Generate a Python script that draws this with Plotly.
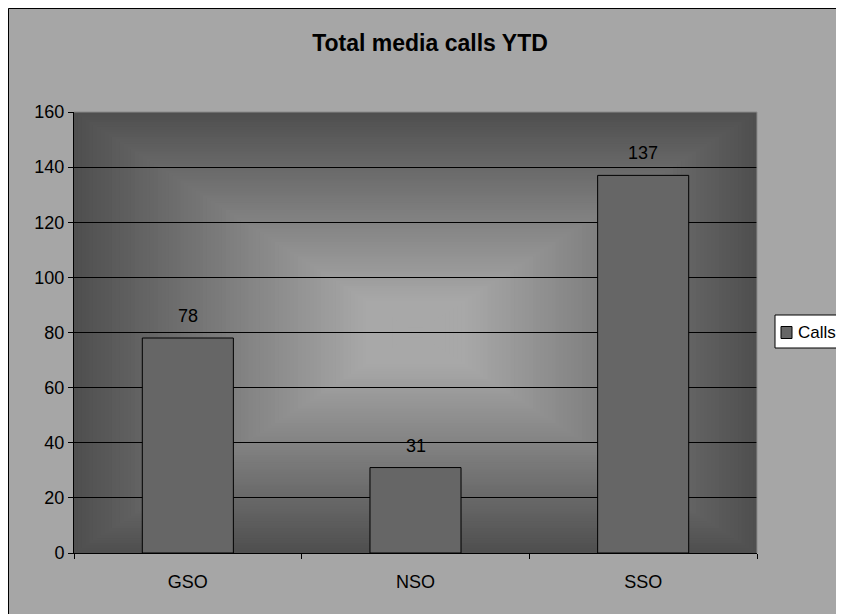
import plotly.graph_objects as go

categories = ["GSO", "NSO", "SSO"]
calls = [78, 31, 137]
series_name = "Calls"
title_text = "Total media calls YTD"
y_ticks = [0, 20, 40, 60, 80, 100, 120, 140, 160]

FONT = "Liberation Sans, Arial, sans-serif"

# figure sits at an 8px page offset (body margin)
W, H = 836, 606
L, R, T, B = 66, 836 - 749, 104, 606 - 545
pw, ph = W - L - R, H - T - B

def px_x(p):
    return (p - L) / pw

def px_y(p):
    return (H - B - p) / ph

shapes = []
# chart-area border (left and top visible)
shapes.append(dict(type="line", xref="paper", yref="paper",
                   x0=px_x(0.5), x1=px_x(0.5), y0=px_y(H), y1=px_y(0.5),
                   line=dict(color="black", width=1), layer="above"))
shapes.append(dict(type="line", xref="paper", yref="paper",
                   x0=px_x(0.5), x1=px_x(W), y0=px_y(0.5), y1=px_y(0.5),
                   line=dict(color="black", width=1), layer="above"))

# rectangular "from centre" gradient of plot area
N = 90
c_out, c_in = 0x4f, 0xa8
for i in range(N):
    t = 1 - i / N
    if t <= 0.15:
        v = c_in
    else:
        v = c_in + (c_out - c_in) * (t - 0.15) / 0.85
    v = int(round(v))
    col = f"rgb({v},{v},{v})"
    shapes.append(dict(type="rect", xref="x domain", yref="y domain",
                       x0=0.5 - t / 2, x1=0.5 + t / 2, y0=0.5 - t / 2, y1=0.5 + t / 2,
                       fillcolor=col, line=dict(width=0), layer="below"))

# light plot-area frame top/right
shapes.append(dict(type="line", xref="x domain", yref="y domain", x0=0, x1=1, y0=1, y1=1,
                   line=dict(color="#8a8a8a", width=1)))
shapes.append(dict(type="line", xref="x domain", yref="y domain", x0=1, x1=1, y0=0, y1=1,
                   line=dict(color="#8a8a8a", width=1)))

BAR_COLOR = "#666666"

# legend box (runs past the right edge, as in the reference) and swatch
shapes.append(dict(type="rect", xref="paper", yref="paper",
                   x0=px_x(767), x1=px_x(W + 20), y0=px_y(340), y1=px_y(307),
                   fillcolor="white", line=dict(color="black", width=1), layer="above"))
shapes.append(dict(type="rect", xref="paper", yref="paper",
                   x0=px_x(773), x1=px_x(784), y0=px_y(330.5), y1=px_y(318.5),
                   fillcolor=BAR_COLOR, line=dict(color="black", width=1), layer="above"))

fig = go.Figure()
fig.add_trace(go.Bar(
    x=categories, y=calls, name=series_name,
    marker=dict(color=BAR_COLOR, line=dict(color="black", width=1)),
    showlegend=False,
))

annotations = [dict(x=c, y=v, text=str(v), xref="x", yref="y", showarrow=False,
                    yanchor="bottom", yshift=10,
                    font=dict(family=FONT, size=18, color="black"))
               for c, v in zip(categories, calls)]
annotations.append(dict(x=px_x(788), y=px_y(324), xref="paper", yref="paper",
                        text=series_name, showarrow=False, xanchor="left", yanchor="middle",
                        font=dict(family=FONT, size=17, color="black")))

fig.update_layout(
    width=W, height=H, autosize=False,
    margin=dict(l=L, r=R, t=T, b=B, pad=0, autoexpand=False),
    paper_bgcolor="#a6a6a6",
    plot_bgcolor="#4f4f4f",
    font=dict(family=FONT, size=18, color="black"),
    title=dict(text=f"<b>{title_text}</b>", x=422 / W, xref="container", xanchor="center",
               y=1 - 35 / H, yref="container", yanchor="middle",
               font=dict(family=FONT, size=23, color="black")),
    bargap=0.6,
    showlegend=False,
    shapes=shapes,
    annotations=annotations,
    xaxis=dict(type="category", showline=True, linecolor="black", linewidth=1,
               ticks="outside", tickson="boundaries", ticklen=5, tickcolor="black",
               showgrid=False, zeroline=False, ticklabelstandoff=12,
               tickfont=dict(family=FONT, size=18, color="black")),
    yaxis=dict(range=[0, 160], tickvals=y_ticks, showline=True, linecolor="black", linewidth=1,
               ticks="outside", ticklen=5, tickcolor="black",
               showgrid=True, gridcolor="black", gridwidth=1, zeroline=False,
               tickfont=dict(family=FONT, size=18, color="black")),
)

fig.write_html("out.html",
               post_script="document.documentElement.style.overflow='hidden';"
                           "document.body.style.overflow='hidden';")
